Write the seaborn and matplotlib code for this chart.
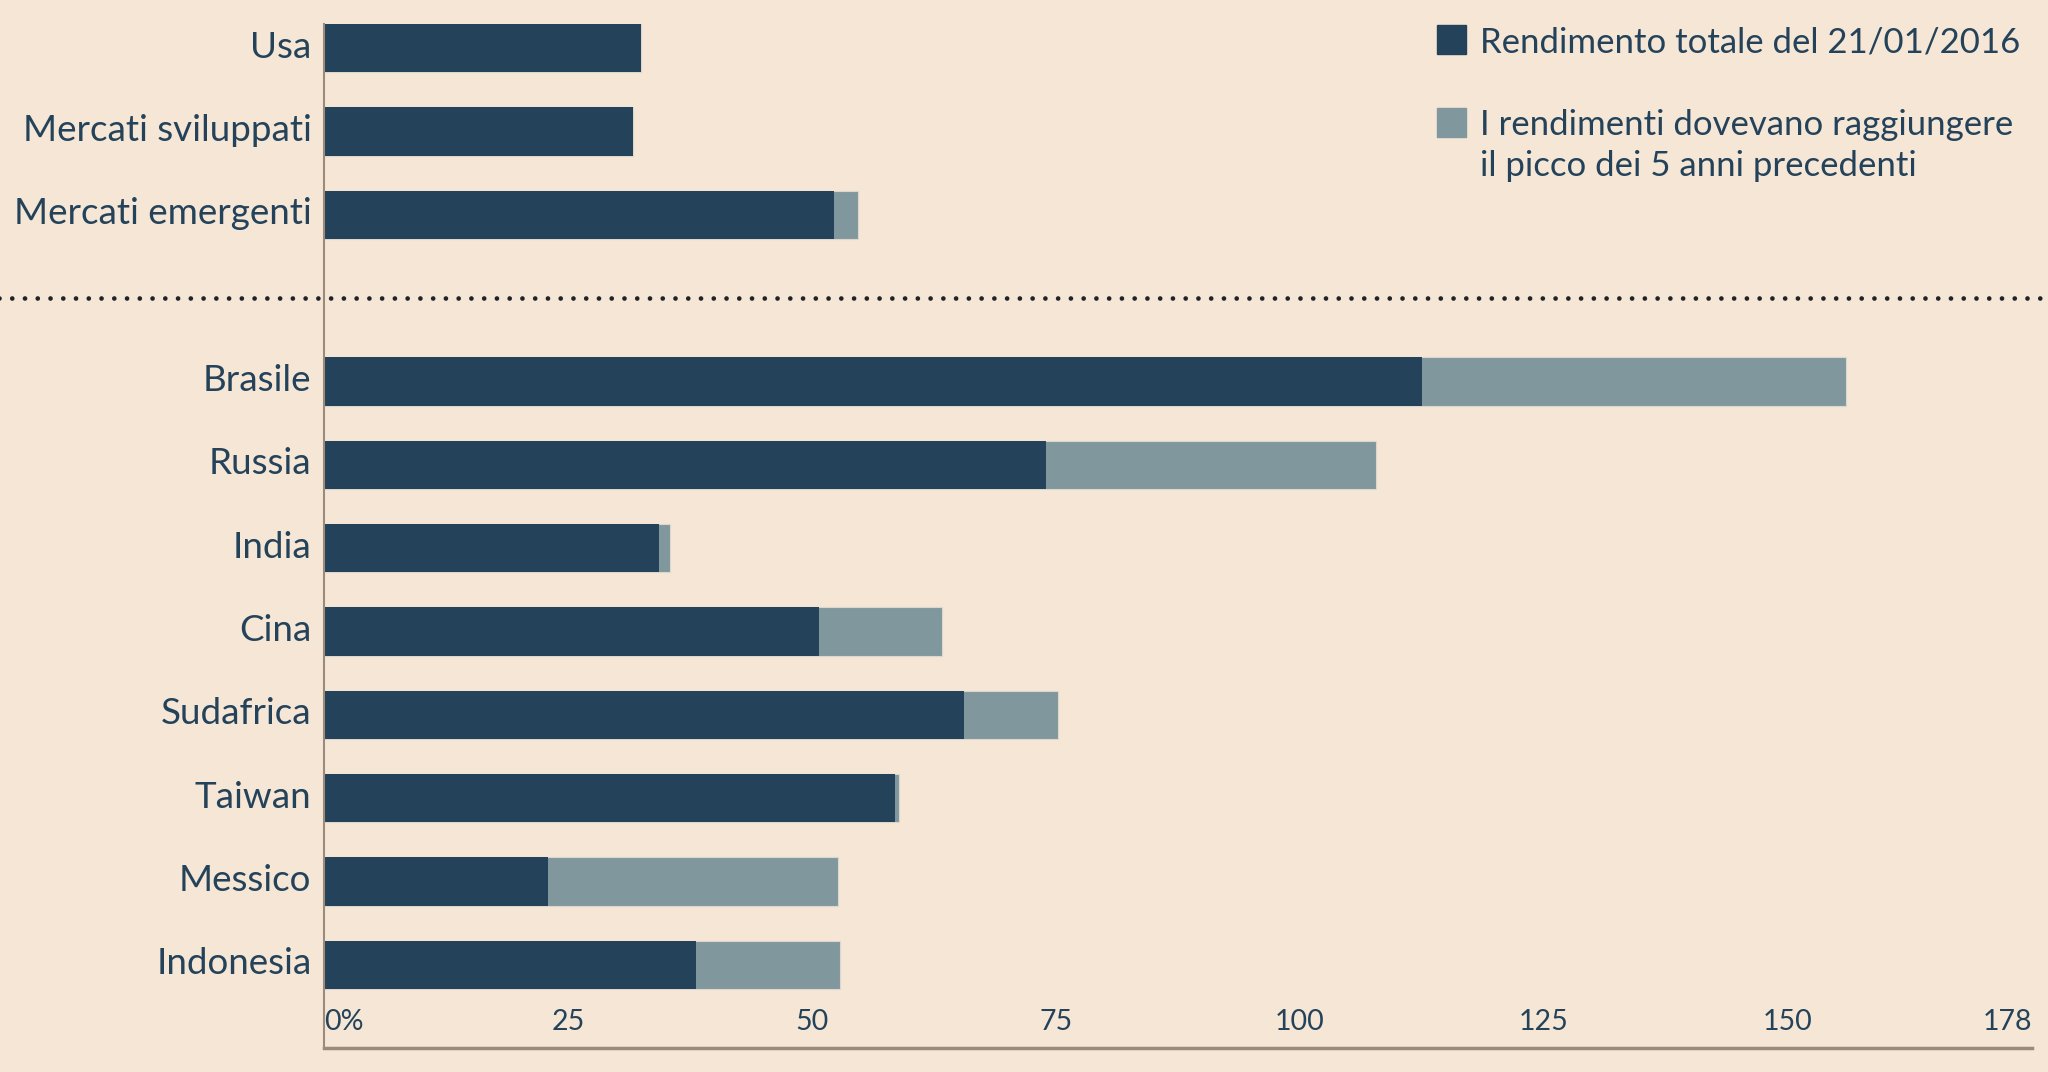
import pandas as pd
import matplotlib.pyplot as plt
import matplotlib.transforms as mtransforms
import seaborn as sns
from matplotlib.patches import Rectangle

# Data
categories = ['Usa', 'Mercati sviluppati', 'Mercati emergenti',
              'Brasile', 'Russia', 'India', 'Cina', 'Sudafrica',
              'Taiwan', 'Messico', 'Indonesia']
rendimento = [32.5, 31.7, 52.3, 112.5, 74.0, 34.3, 50.7, 65.6, 58.5, 22.9, 38.1]
picco = [32.5, 31.7, 54.7, 155.9, 107.8, 35.5, 63.3, 75.2, 58.9, 52.7, 52.9]
tick_vals = [0, 25, 50, 75, 100, 125, 150, 175]
tick_labels = ['0%', '25', '50', '75', '100', '125', '150', '178']

label_1 = 'Rendimento totale del 21/01/2016'
label_2 = ['I rendimenti dovevano raggiungere', 'il picco dei 5 anni precedenti']

bg = '#f5e6d6'
dark = '#24435a'
light = '#7f979d'
axcol = '#9c8b7a'

df = pd.DataFrame({'paese': categories, 'rendimento': rendimento, 'picco': picco})
order = categories[:3] + [' '] + categories[3:]

sns.set_style('white')
plt.rcParams['font.family'] = ['Lato', 'DejaVu Sans']

W, H = 2048, 1072
fig = plt.figure(figsize=(W / 100, H / 100), dpi=100, facecolor=bg)
ax = fig.add_axes([0.1582, 0.0224, 0.9922 - 0.1582, 0.9776 - 0.0224])
ax.set_facecolor(bg)

# light bar = total needed, dark bar = actual return on top
sns.barplot(data=df, x='picco', y='paese', order=order, orient='h',
            color=light, saturation=1, width=0.58, edgecolor='#dcd6cc',
            linewidth=0.8, ax=ax)
sns.barplot(data=df, x='rendimento', y='paese', order=order, orient='h',
            color=dark, saturation=1, width=0.58, edgecolor='none', ax=ax)

ax.set_xlim(0, 175)
ax.set_ylim(12, -0.29)
ax.set_xlabel('')
ax.set_ylabel('')

ax.set_xticks(tick_vals)
ax.set_xticklabels(tick_labels)
ax.tick_params(axis='x', direction='in', length=7, width=1.2, color=axcol,
               labelsize=20.5, labelcolor=dark, pad=-28)
ax.tick_params(axis='y', length=0, labelsize=26.5, labelcolor=dark, pad=9)
xt = ax.get_xticklabels()
xt[0].set_ha('left')
xt[-1].set_ha('right')

# country names sit a touch above the bar centre
shift = mtransforms.ScaledTranslation(0, 4 / 100, fig.dpi_scale_trans)
for t in ax.get_yticklabels():
    t.set_transform(t.get_transform() + shift)

for s in ['top', 'right']:
    ax.spines[s].set_visible(False)
ax.spines['left'].set_color(axcol)
ax.spines['left'].set_linewidth(1.5)
ax.spines['bottom'].set_color(axcol)
ax.spines['bottom'].set_linewidth(2.5)

# dotted separator across the whole figure
ax.axhline(3, xmin=-0.19, xmax=1.01, color='#1f2326', lw=3.4,
           linestyle=(0, (0.001, 2.7)), dash_capstyle='round', clip_on=False)

# legend, placed by hand
fig.patches.append(Rectangle((1437 / W, 1 - 54 / H), 29 / W, 29 / H,
                             transform=fig.transFigure, color=dark))
fig.patches.append(Rectangle((1437 / W, 1 - 137 / H), 29 / W, 29 / H,
                             transform=fig.transFigure, color=light))
fig.text(1480 / W, 1 - 40 / H, label_1, fontsize=25, color=dark,
         va='center_baseline')
fig.text(1480 / W, 1 - 122 / H, label_2[0], fontsize=25, color=dark,
         va='center_baseline')
fig.text(1480 / W, 1 - 163 / H, label_2[1], fontsize=25, color=dark,
         va='center_baseline')

fig.savefig('out.png', dpi=100, facecolor=bg)
